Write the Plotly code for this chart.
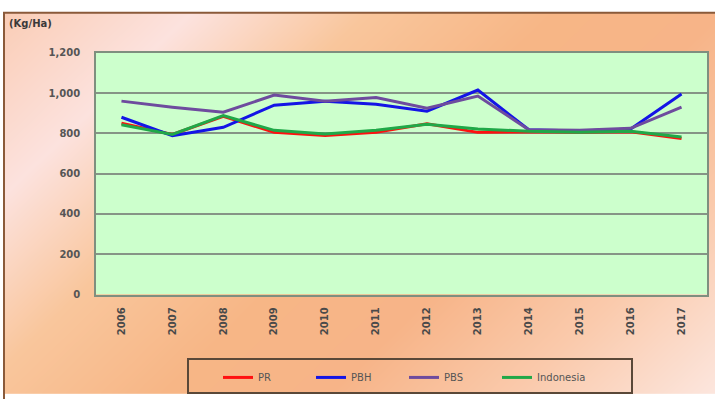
import numpy as np
import plotly.graph_objects as go

# Yield per hectare, 2006-2017
years = ["2006", "2007", "2008", "2009", "2010", "2011",
         "2012", "2013", "2014", "2015", "2016", "2017"]
pr = [850, 795, 885, 805, 790, 805, 848, 805, 808, 805, 808, 775]
pbh = [880, 788, 830, 940, 960, 945, 910, 1015, 818, 812, 822, 995]
pbs = [960, 930, 905, 990, 960, 978, 925, 985, 818, 815, 825, 930]
indonesia = [843, 795, 888, 815, 797, 815, 845, 822, 810, 806, 810, 782]

series_names = ["PR", "PBH", "PBS", "Indonesia"]
series_values = [pr, pbh, pbs, indonesia]
series_colors = ["#ff1010", "#1414e6", "#6e4b9e", "#20a848"]

Y_MAX = 1200
W, H = 715, 399
FONT = "DejaVu Sans"

fig = go.Figure()

# Diagonal warm gradient behind the chart (decorative background)
n = 40
gx = np.linspace(0, 1, n)
gy = np.linspace(0, 1, n)
GX, GY = np.meshgrid(gx, gy)
t = (GX * 711 + (1 - GY) * 391) / (711 + 391)
bg_scale = [
    [0.0, "rgb(250,205,182)"],
    [0.17, "rgb(252,226,222)"],
    [0.33, "rgb(249,198,156)"],
    [0.5, "rgb(247,182,134)"],
    [0.65, "rgb(247,180,136)"],
    [0.82, "rgb(250,202,172)"],
    [1.0, "rgb(252,230,222)"],
]
fig.add_trace(go.Heatmap(x=gx, y=gy, z=t, colorscale=bg_scale, zmin=0, zmax=1,
                         zsmooth="best", showscale=False, hoverinfo="skip",
                         showlegend=False, xaxis="x", yaxis="y"))

for name, vals, col in zip(series_names, series_values, series_colors):
    fig.add_trace(go.Scatter(x=years, y=vals, name=name, mode="lines",
                             line=dict(color=col, width=3),
                             xaxis="x2", yaxis="y2"))

px0, px1 = 96 / W, 707 / W
py0, py1 = (H - 297) / H, (H - 49) / H
x_lo, x_hi = -0.5, len(years) - 0.5

fig.update_layout(
    width=W, height=H,
    margin=dict(l=0, r=0, t=0, b=0),
    paper_bgcolor="white",
    plot_bgcolor="rgba(0,0,0,0)",
    font=dict(family=FONT, size=10, color="#4a4a4a"),
    xaxis=dict(domain=[4 / W, 1], range=[0, 1], visible=False, fixedrange=True),
    yaxis=dict(domain=[0, (H - 8) / H], range=[0, 1], visible=False, fixedrange=True),
    xaxis2=dict(domain=[px0, px1], anchor="y2", type="category",
                range=[x_lo, x_hi],
                showgrid=False, showline=True, linecolor="#7f8f7f", linewidth=1.5,
                mirror=True, tickangle=-90, ticks="",
                tickfont=dict(family=FONT, size=10, color="#4a4a4a", weight="bold"),
                ticklabelstandoff=7),
    yaxis2=dict(domain=[py0, py1], anchor="x2", range=[0, Y_MAX], dtick=200,
                tickformat=",", showgrid=True, gridcolor="#869486", gridwidth=1.5,
                showline=True, linecolor="#7f8f7f", linewidth=1.5, mirror=True,
                zeroline=False, ticks="",
                tickfont=dict(family=FONT, size=10, color="#555555", weight="bold"),
                ticklabelstandoff=12),
    showlegend=True,
    legend=dict(orientation="h", x=218 / W, xanchor="left", y=(H - 382) / H,
                yanchor="middle", bgcolor="rgba(0,0,0,0)", borderwidth=0,
                font=dict(family=FONT, size=10, color="#555555"),
                entrywidth=48, itemwidth=30, traceorder="normal"),
    shapes=[
        # plot area fill, below gridlines and lines
        dict(type="rect", xref="x2", yref="y2", x0=x_lo, x1=x_hi, y0=0, y1=Y_MAX,
             fillcolor="#ccffcc", line=dict(width=0), layer="below"),
        # outer chart border
        dict(type="rect", xref="paper", yref="paper", x0=4 / W, x1=1.02,
             y0=-0.02, y1=(H - 8) / H, line=dict(color="#8a5a3a", width=2),
             fillcolor="rgba(0,0,0,0)", layer="above"),
        # legend frame
        dict(type="rect", xref="paper", yref="paper", x0=188 / W, x1=632 / W,
             y0=(H - 398) / H, y1=(H - 363) / H, line=dict(color="#5a4838", width=2),
             fillcolor="rgba(0,0,0,0)", layer="above"),
    ],
    annotations=[
        dict(text="(Kg/Ha)", xref="paper", yref="paper", x=7 / W, y=(H - 11) / H,
             xanchor="left", yanchor="top", showarrow=False,
             font=dict(family=FONT, size=10, color="#3a3a3a", weight="bold")),
    ],
)

fig.write_html("out.html")
